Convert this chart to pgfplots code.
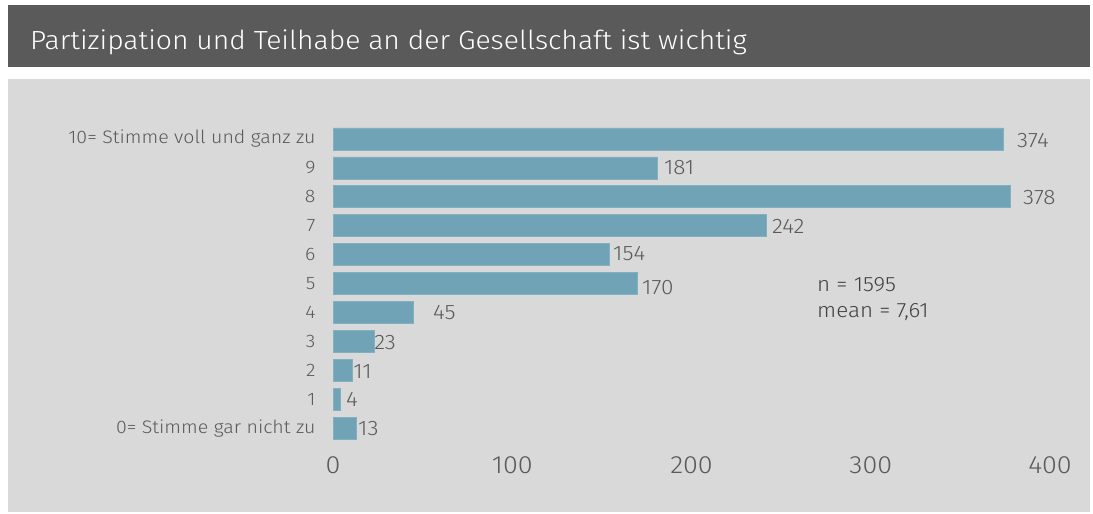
\documentclass[border=0pt]{standalone}
\usepackage{pgfplots}
\pgfplotsset{compat=1.18}
\usepackage{fontspec}
\setmainfont{Fira Sans}[UprightFont=* Light, FakeStretch=1.08]
\definecolor{barc}{HTML}{6FA3B5}
\definecolor{barb}{HTML}{82B0C0}
\definecolor{panel}{HTML}{D9D9D9}
\definecolor{titlebg}{HTML}{5A5A5A}
\definecolor{txt}{HTML}{5A5A5A}
\definecolor{txtd}{HTML}{404040}
\begin{document}
\begin{tikzpicture}[x=1bp,y=1bp]
\path[use as bounding box] (0,0) rectangle (1093,-514);
\fill[titlebg] (8,-5) rectangle (1090,-67);
\fill[panel] (8,-79) rectangle (1090,-512);
\node[anchor=west, text=white, font=\fontsize{26.3}{30}\selectfont, inner sep=0pt] at (30,-42) {Partizipation und Teilhabe an der Gesellschaft ist wichtig};
\begin{axis}[
  at={(333bp,-442.5bp)}, anchor=south west,
  scale only axis, width=717bp, height=318bp,
  xmin=0, xmax=400, ymin=-0.5, ymax=10.5,
  axis line style={draw=none},
  tick style={draw=none},
  xtick={0,100,...,400},
  ytick={0,...,10},
  yticklabels={0= Stimme gar nicht zu,1,2,3,4,5,6,7,8,9,10= Stimme voll und ganz zu},
  y tick label style={font=\fontsize{18.2}{21}\selectfont, text=txt, xshift=-14bp},
  x tick label style={font=\fontsize{25}{29}\selectfont, text=txt, yshift=-11bp},
  /pgf/number format/assume math mode=true,
  clip=false,
]
\addplot[xbar, bar width=22bp, fill=barc, draw=barb, line width=0.6bp] coordinates {
(13,0) (4,1) (11,2) (23,3) (45,4) (170,5) (154,6) (242,7) (378,8) (181,9) (374,10)
};
\addplot[only marks, mark=none, point meta=explicit,
  nodes near coords={\pgfmathprintnumber{\pgfplotspointmeta}},
  nodes near coords style={anchor=west, inner sep=0pt, font=\fontsize{21}{24}\selectfont, text=txt, /pgf/number format/assume math mode=true}]
table[meta=v] {
x y v
13.95 -0.03 13
7.25 1.0 4
11.2 1.97 11
22.9 2.97 23
55.8 4.0 45
172.4 4.86 170
156.2 6.03 154
244.9 6.97 242
384.9 7.97 378
184.6 9.0 181
381.6 9.93 374
};
\end{axis}
\node[anchor=west, text=txtd, align=left, font=\fontsize{20.8}{26}\selectfont, inner sep=0pt] at (817,-299) {n = 1595\\mean = 7,61};
\end{tikzpicture}
\end{document}
